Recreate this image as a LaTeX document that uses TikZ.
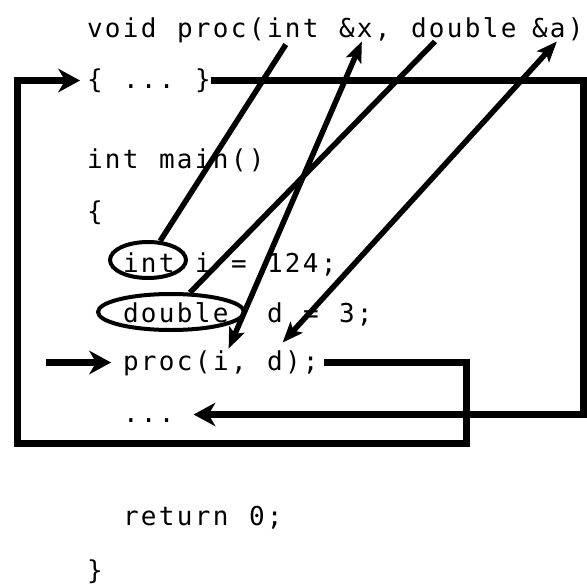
\documentclass[tikz,border=0pt]{standalone}
\usepackage{fontspec}
\newfontfamily\codefont[LetterSpace=9.0]{DejaVu Sans Mono}
\usetikzlibrary{arrows.meta,shapes.geometric}
\tikzset{
  code/.style={font={\codefont\fontsize{26pt}{30pt}\selectfont}, anchor=base west, inner sep=0pt, outer sep=0pt, text height=19.5pt, text depth=4.5pt},
  ring/.style={draw, ellipse, line width=4pt, inner sep=0pt},
  bus/.style={line width=7pt, -{Stealth[length=22pt,width=24pt,inset=7pt,line width=0pt]}},
  ref/.style={line width=5.5pt, {Stealth[length=21pt,width=17pt,inset=5pt,line width=0pt]}-{Stealth[length=21pt,width=17pt,inset=5pt,line width=0pt]}},
  wire/.style={line width=5.5pt},
}
\begin{document}
\begin{tikzpicture}[x=1pt,y=-1pt]
\useasboundingbox (0,0) rectangle (587,584);
\fill[white] (0,0) rectangle (587,584);
% signature
\node[code] (sgvoid) at (87,37) {void};
\node[code] (sgproc) at (177,37) {proc(};
\node[code] (sint) at (267,37) {int};
\node[code] (sx) at (339,37) {\&x,};
\node[code] (sdbl) at (411,37) {double};
\node[code] (sa) at (532,37) {\&a)};
% body
\node[code] (bopen) at (87,88) {\{};
\node[code] (bdots) at (123,88) {...};
\node[code] (bclose) at (195,88) {\}};
% main
\node[code] (mint) at (87,168) {int};
\node[code] (mmain) at (159,168) {main()};
\node[code] (obrace) at (87,220) {\{};
\node[ring, minimum width=76pt, minimum height=36pt] (intring) at (148,260) {};
\node[code] (lint) at (123,272) {int};
\node[code] (li) at (195,272) {i};
\node[code] (leqa) at (231,272) {=};
\node[code] (lvala) at (267,272) {124;};
\node[ring, minimum width=146pt, minimum height=36pt] (dblring) at (171,312) {};
\node[code] (ldbl) at (123,322) {double};
\node[code] (ld) at (267,322) {d};
\node[code] (leqb) at (303,322) {=};
\node[code] (lvalb) at (339,322) {3;};
\node[code] (pproc) at (123,370) {proc(};
\node[code] (pi) at (213,370) {i};
\node[code] (pcomma) at (231,370) {,};
\node[code] (pd) at (267,370) {d};
\node[code] (pend) at (285,370) {);};
\node[code] (pdots) at (123,422) {...};
\node[code] (rret) at (123,525) {return};
\node[code] (rzero) at (249,525) {0;};
\node[code] (cbrace) at (87,579) {\}};
% corners
\coordinate (cA) at (466,443);
\coordinate (cB) at (17.5,443);
\coordinate (cR) at (583,414.5);
\coordinate (entry) at (46,362.5);
% connectors
\draw[bus] ([xshift=5pt]pend.east) -| (cA) -- (cB) |- ([xshift=-7pt]bopen.west);
\draw[bus] (bclose.east) -| (cR) -- ([xshift=19pt]pdots.east);
\draw[bus] (entry) -- ([xshift=-12pt]pproc.west);
\draw[wire] ([xshift=-7pt,yshift=-3pt]sint.south) -- (intring);
\draw[wire] ([xshift=24pt]sdbl.south west) -- (dblring);
\draw[ref] ([yshift=2pt]pi.north east) -- ([xshift=-3pt]sx.south);
\draw[ref] ([yshift=8pt]pd.north east) -- ([xshift=-1pt]sa.south);
\end{tikzpicture}
\end{document}
